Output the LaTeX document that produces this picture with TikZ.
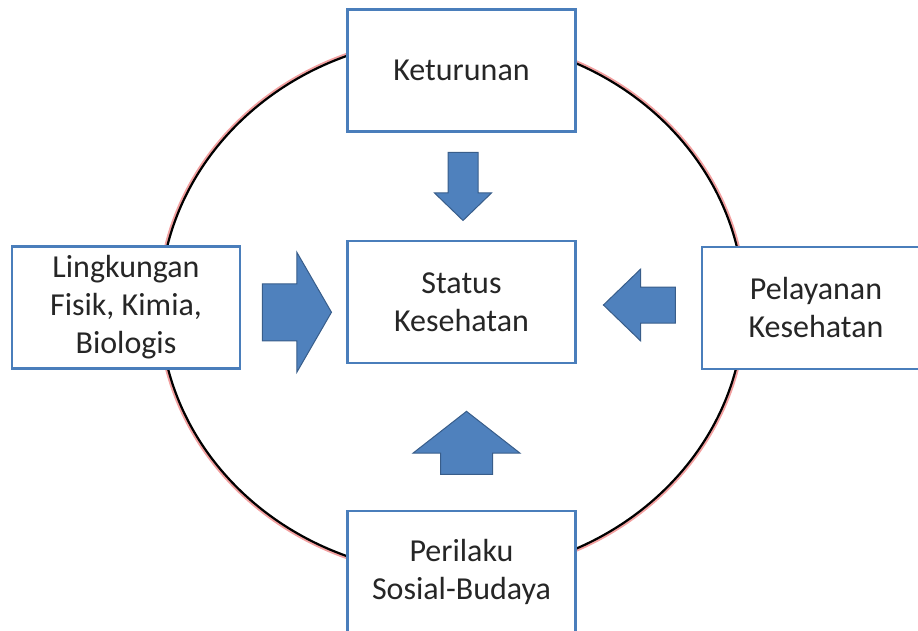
\documentclass[tikz,border=0pt]{standalone}
\usepackage{fontspec}
\setmainfont{Carlito}
\usetikzlibrary{positioning,calc,shapes.arrows}
\definecolor{boxblue}{HTML}{4A7EBB}
\definecolor{arrowfill}{HTML}{4F81BD}
\definecolor{arrowline}{HTML}{385D8A}
\definecolor{glow}{HTML}{F2A0A0}
\definecolor{textgray}{HTML}{262626}

\tikzset{
  factor/.style={draw=boxblue, line width=2.5pt, fill=white, minimum width=228pt, minimum height=122pt,
    align=center, text=textgray, font=\fontsize{32}{38}\selectfont, inner sep=0pt},
  blockarrow/.style={single arrow, fill=arrowfill, draw=arrowline, line width=1pt, inner xsep=0pt,
    single arrow head indent=0pt}
}

\begin{document}
\begin{tikzpicture}[x=1pt,y=-1pt]
          \useasboundingbox (0,0) rectangle (918,631);
          \clip (0,0) rectangle (918,631);
          % ring behind the boxes
          \draw[glow, line width=3pt] (452,306) ellipse [x radius=293.5, y radius=269.5];
          \draw[black, line width=2.2pt] (452,306) ellipse [x radius=292, y radius=268];
          % boxes
          \node[factor] (status) at (461.5,302) {Status\\Kesehatan};
          \node[factor] (keturunan) at (461.5,70.5) {Keturunan};
          \node[factor] (perilaku) at (461.5,572) {Perilaku\\Sosial-Budaya};
          \node[factor] (lingkungan) at (126,307.5) {Lingkungan\\Fisik, Kimia,\\Biologis};
          \node[factor] (pelayanan) at (816,308) {Pelayanan\\Kesehatan};
          % block arrows into the centre
          \node[blockarrow, rotate=-90, minimum height=68pt, inner ysep=14.5pt,
            single arrow head extend=13.5pt, single arrow tip angle=92] (fromketurunan)
            at ($(keturunan.south)!0.5!(status.north)+(1.5,-7)$) {};
          \node[blockarrow, rotate=0, minimum height=69pt, inner ysep=28pt,
            single arrow head extend=31.5pt, single arrow tip angle=120] (fromlingkungan)
            at ($(lingkungan.east)!0.5!(status.west)+(-5,7.5)$) {};
          \node[blockarrow, rotate=180, minimum height=72pt, inner ysep=17.5pt,
            single arrow head extend=18pt, single arrow tip angle=88] (frompelayanan)
            at ($(status.east)!0.5!(pelayanan.west)+(10,0)$) {};
          \node[blockarrow, rotate=90, minimum height=63pt, inner ysep=25.5pt,
            single arrow head extend=27.5pt, single arrow tip angle=104] (fromperilaku)
            at ($(status.south)!0.5!(perilaku.north)+(5,16)$) {};
    \end{tikzpicture}
\end{document}
